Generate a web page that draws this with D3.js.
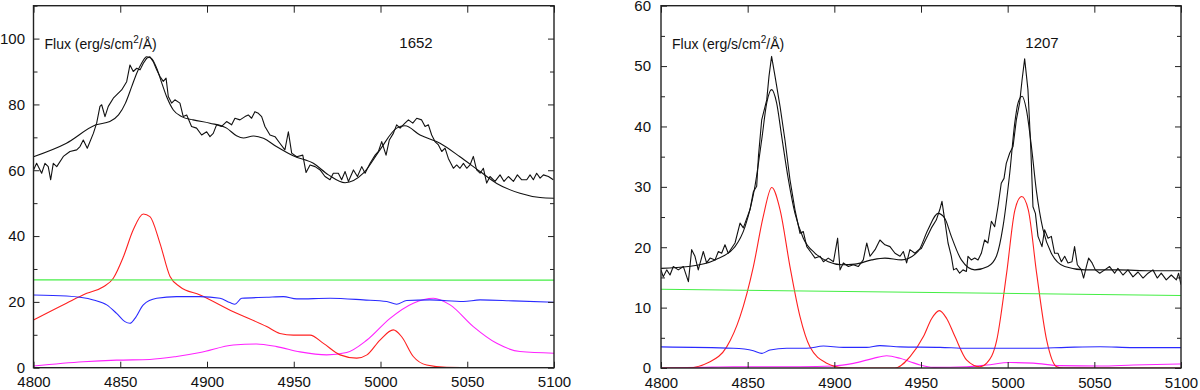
<!DOCTYPE html>
<html>
<head>
<meta charset="utf-8">
<script src="https://cdn.jsdelivr.net/npm/d3@7"></script>
<style>
  body { margin: 0; background: #fff; }
  svg { display: block; font-family: "Liberation Sans", Arial, sans-serif; }
</style>
</head>
<body>
<script>
const W = 1200, H = 390;

// wavelength ticks shared by both panels
const waveTicks = [4800, 4850, 4900, 4950, 5000, 5050, 5100];
const leftFluxTicks = [0, 20, 40, 60, 80, 100];
const leftFluxMinor = [10, 30, 50, 70, 90, 110];
const rightFluxTicks = [0, 10, 20, 30, 40, 50, 60];
const rightFluxMinor = [5, 15, 25, 35, 45, 55];

// ---- panel 1652 ----
const obs1652 = [
  [4800,60.1],[4801.8,62.1],[4804.7,59.1],[4806.6,62.1],[4808.5,61.1],[4809.9,57.1],[4811.4,62.1],[4813.4,61.1],
  [4817.2,64.2],[4821,65.7],[4824.9,66.2],[4826.8,67.2],[4828.7,69.2],[4831,66.7],[4834.5,71.2],[4836.4,74.3],
  [4838.3,79.4],[4839.3,79.9],[4841.2,76.3],[4843.1,79.4],[4846,81.9],[4847.9,82.9],[4850.8,84.4],[4853.7,86.9],
  [4855.6,92],[4857.5,90],[4859.5,91],[4861.4,90.5],[4863.3,92.5],[4865.2,94],[4867.1,94.5],[4869,93],
  [4871,90.5],[4872.9,88.5],[4874.8,87],[4876.4,88],[4877.7,82.4],[4879.6,80.4],[4881.5,81.4],[4884.4,80.4],
  [4886.3,76.3],[4888.3,76.8],[4891.1,73.3],[4894,72.8],[4896.9,70.7],[4899.8,71.7],[4901.7,70.2],[4903.6,71.2],
  [4905.5,73.8],[4908.4,73.3],[4911.3,74.8],[4914.2,73.8],[4916.1,75.8],[4919,75.3],[4921.9,76.3],[4923.8,76.8],
  [4925.7,75.8],[4927.6,77.8],[4929.6,77.3],[4931.5,76.3],[4933.4,73.3],[4936.3,70.7],[4939.2,70.2],[4942,68.2],
  [4944.9,66.2],[4946.9,71.7],[4948.8,65.2],[4951.7,64.1],[4955.2,64.6],[4957.1,59.3],[4959.4,61.6],[4962.3,61.1],
  [4965.2,60.1],[4968,58.1],[4970.9,57.1],[4972.8,59.1],[4975.7,59.1],[4977.6,57.1],[4979.6,59.6],[4981.5,56.6],
  [4984.4,60.1],[4986.7,58.1],[4989.2,61.1],[4991.1,59.1],[4994,62.1],[4996.9,64.6],[4998.8,65.7],[5000.7,68.7],
  [5003.2,64.6],[5005.1,69.2],[5007.4,71.2],[5009.3,73.8],[5011.3,72.8],[5014.1,74.3],[5016.1,75.3],[5018.6,74.3],
  [5020.9,75.8],[5023.7,75.3],[5025.7,73.3],[5027.6,73.8],[5029.5,70.7],[5031.4,68.7],[5033.4,67.7],[5035.3,65.7],
  [5037.2,66.7],[5039.1,63.6],[5042,60.6],[5043.9,61.6],[5045.8,60.6],[5047.8,62.1],[5049.7,60.6],[5051.6,61.6],
  [5053.5,64.2],[5055.4,60.1],[5057.4,59.1],[5059.3,60.6],[5061.2,56.1],[5063.1,58.1],[5066,56.6],[5068.9,58.6],
  [5071.2,56.6],[5073.7,58.1],[5076.6,56.6],[5078.9,58.6],[5081.4,57.1],[5084.3,57.1],[5086.2,58.6],[5088.1,57.1],
  [5090,59.1],[5092,57.6],[5093.9,58.6],[5096.8,58.1],[5099.6,57.1]
];
const fit1652 = [
  [4800,64.1],[4819,68.2],[4836,73.8],[4844,74.8],[4849,76.8],[4853,80.4],[4856.6,85.4],[4859.5,89.5],
  [4862.3,92.5],[4865.2,94.5],[4868,94],[4871,91],[4874,86.4],[4876.7,82.4],[4880.6,78.3],[4885.4,76.3],
  [4892,75.3],[4901.7,74.3],[4911.3,72.8],[4917,70.5],[4921,69.8],[4926.7,70.4],[4932.5,69.7],[4940,67.2],
  [4950,64.3],[4961.3,62.1],[4970,58.6],[4979.6,56.2],[4990.1,59.1],[4999.7,66.2],[5009.3,72.8],[5014.1,73.5],
  [5022.8,70.7],[5034.3,68.2],[5045.8,64.1],[5057.4,59.6],[5067,56],[5080.4,53],[5092,51.7],[5100,51.5]
];
const cont1652 = [[4800,26.7],[5100,26.6]];
const feii1652 = [
  [4800,22.1],[4819,21.8],[4834.5,20.6],[4842.2,19.1],[4847.9,16.5],[4852.7,14],[4855.6,13.5],[4858.5,15],
  [4863.3,19.1],[4871,21.1],[4882.5,21.6],[4896,21.6],[4907.5,21.1],[4913.2,19.8],[4916.1,19.3],[4920,21.1],
  [4934.4,21.4],[4944,21.6],[4951.7,20.9],[4970.9,21.1],[4990.1,20.6],[5003.6,20.1],[5009.3,19.3],[5015.1,20.4],
  [5028.5,20.6],[5047.8,20.1],[5057.4,20.6],[5076.6,20.3],[5100,19.9]
];
const lines1652 = [
  [4800,14.5],[4819,19.6],[4830.7,22.6],[4840.3,24.6],[4846,27.2],[4851.8,33.7],[4857.5,41.9],[4863.3,46.7],
  [4867.1,45.9],[4872.9,37.8],[4878.7,27.7],[4884.4,24.6],[4896,22.1],[4915.2,17],[4934.4,12.5],[4942,10.4],
  [4949.8,9.9],[4959.4,9.9],[4967.1,7.4],[4976.7,3.9],[4986.3,2.9],[4992.2,3.9],[4999.7,8.4],[5007.4,11.5],
  [5012.2,9.4],[5018.9,3.4],[5026.6,0.8],[5038.1,0.1],[5057.4,0]
];
const heii1652 = [
  [4800,0.5],[4828.7,1.8],[4847.9,2.3],[4867.1,2.5],[4882.5,3.4],[4896,4.6],[4915.2,6.9],[4928.6,7.2],
  [4940.2,6.4],[4953.6,4.8],[4969,3.9],[4980.5,4.6],[4992.2,8.4],[5005.5,15],[5018.9,19.6],[5030.5,21.1],
  [5040.1,19.1],[5053.5,12.5],[5067,7.4],[5080.4,4.9],[5100,4.4]
];

// ---- panel 1207 ----
const obs1207 = [
  [4800,16.25],[4801.3,15.1],[4803.3,16.25],[4805.2,15.4],[4807.1,16.8],[4810,16.25],[4812.9,16.8],[4815.8,14.3],
  [4817.7,19.6],[4819.6,18.5],[4821.5,16.25],[4824.4,19.3],[4826.3,17.4],[4828.3,18.2],[4831.2,17.9],[4833.1,19.3],
  [4835,19],[4836.9,20.4],[4838.8,19],[4842.7,20.7],[4845.6,24],[4847.5,23.2],[4851.3,26.2],[4853.3,29.2],
  [4855.2,30.1],[4856.2,35],[4858.1,41.1],[4861,44.4],[4862.3,48.3],[4863.8,51.6],[4865.8,48.3],[4868.7,43.3],
  [4871.5,37.8],[4874.4,31.2],[4877.3,26.2],[4880.2,22.3],[4882.1,22.6],[4884.1,20.1],[4886.9,19],[4888.9,18.2],
  [4891.8,18.5],[4893.7,17.6],[4896.5,18.2],[4899.5,17.6],[4901.9,21.5],[4903.3,16.25],[4905.2,17.4],[4908.1,16.8],
  [4911,17.1],[4913.8,16.8],[4916.7,17.9],[4918.7,20.7],[4920.6,18.5],[4923.5,19.6],[4926.3,21.2],[4929.2,20.4],
  [4932.1,20.1],[4935,19],[4937.9,18.5],[4939.8,19.3],[4941.7,17.4],[4943.6,19.6],[4946.5,19],[4948.8,19.6],
  [4950.2,19.8],[4953.1,21.5],[4956,23.2],[4958.8,24.5],[4960.8,26.2],[4962.1,27.6],[4963.7,24.5],[4965.6,20.7],
  [4967.5,18.5],[4968.8,16.25],[4970.4,16.5],[4972.3,15.7],[4974.2,16.25],[4976.2,16],[4977.1,18.5],[4979,17.9],
  [4981,18.2],[4982.9,17.9],[4984.8,19],[4986.7,21.2],[4988.6,20.7],[4990.6,24.3],[4992.5,23.4],[4994.4,26.7],
  [4996.3,30.6],[4997.9,31.4],[4999.2,33.9],[5001.2,35.6],[5003.1,36.7],[5005,41.1],[5006.9,43.9],[5008.3,47.7],
  [5009.8,51.2],[5011.7,46.1],[5013.3,36.7],[5014.6,26.7],[5016,25.6],[5017.5,21.8],[5019.8,20.1],[5021.3,22.9],
  [5023.3,21.5],[5025.2,21.8],[5027.1,19],[5029,19],[5031,17.6],[5032.9,18.5],[5034.8,17.4],[5037.1,17.6],
  [5038.6,20.1],[5040.2,17.1],[5042.5,16.25],[5043.8,14.9],[5045.4,16.8],[5046.7,18.2],[5048.7,17.4],[5050.6,16.25],
  [5053.1,15.7],[5056,16.25],[5058.8,16.8],[5061.7,15.7],[5063.6,16.5],[5066.5,15.4],[5069.4,16.25],[5072.3,15.1],
  [5075.2,15.9],[5078.1,14.9],[5081,15.7],[5083.8,16.25],[5086.3,14.9],[5088.6,15.7],[5091.5,14.6],[5094.4,15.4],
  [5097.3,14.6],[5098.6,15.7],[5100,13.8]
];
const fit1207 = [
  [4800,16.5],[4815.8,16.8],[4831.2,17.9],[4842.7,20.1],[4848.5,23.4],[4854.2,30.1],[4858.1,37.8],[4861,43.9],
  [4863.8,46.1],[4866.7,43.9],[4869.6,38.4],[4873.5,31.2],[4877.3,25.6],[4882.1,21.5],[4888.9,19],[4896.5,17.6],
  [4904.2,17.1],[4911.9,17.2],[4921.5,17.9],[4929.2,18.2],[4938.8,17.9],[4948.3,19.3],[4954,22.9],[4959.8,25.6],
  [4963.7,24.8],[4967.5,21.8],[4973.3,17.9],[4981,16.25],[4988.6,16.8],[4993.5,18.5],[4997.3,23.4],[5001.2,32.3],
  [5004.1,40.6],[5006,43.9],[5008.3,45],[5010.8,42.8],[5013.7,36.7],[5016.5,29.5],[5020.4,22.9],[5025.2,19],
  [5032.9,16.8],[5044.4,16.25],[5063.6,16.25],[5082.9,16.1],[5100,16.1]
];
const cont1207 = [[4800,13.05],[5100,12.0]];
const feii1207 = [
  [4800,3.5],[4841.7,3.26],[4853.3,2.87],[4858.1,2.43],[4862.9,2.98],[4872.5,3.26],[4884,3.26],[4893.7,3.64],
  [4905.2,3.42],[4918.6,3.42],[4926.3,3.7],[4937.9,3.5],[4961,3.42],[4976.4,3.26],[4995.6,3.26],[5014.8,3.26],
  [5034,3.42],[5053.3,3.53],[5072.5,3.37],[5100,3.37]
];
const lines1207 = [
  [4800,0],[4814.8,0],[4828.3,1.05],[4837.9,3.5],[4845.6,8.5],[4853.3,16.8],[4859,25.1],[4863.9,29.9],
  [4868.7,26.2],[4874.4,16.8],[4880.2,8.5],[4885.9,3.5],[4895.6,0.8],[4905.2,0.05],[4911,0],[4935,0],
  [4943.7,1.9],[4951.4,5.2],[4956.2,8.2],[4960.6,9.5],[4964.8,8.2],[4969.6,5.2],[4976.4,1.3],[4984,0.2],
  [4987.9,0.8],[4993.7,4.6],[4999.4,15.7],[5004.2,26.2],[5008.1,28.4],[5011.9,26.2],[5016.7,15.7],[5022.5,4.6],
  [5028.3,0.2],[5032.1,0],[5100,0]
];
const heii1207 = [
  [4800,0],[4822.5,0.1],[4841.7,0.2],[4880.2,0.2],[4899.4,0.33],[4911,0.77],[4922.5,1.6],[4930.2,2.04],
  [4937.9,1.6],[4943.7,1.05],[4949.4,0.5],[4957.1,0.1],[4976.4,0.2],[4987.9,0.5],[5001.4,0.9],[5014.8,0.8],
  [5030.2,0.4],[5053.3,0.33],[5072.5,0.5],[5100,0.66]
];

const svg = d3.select("body").append("svg")
  .attr("width", W)
  .attr("height", H);

const panels = [
  {
    id: "p1652", label: "1652", x0: 33.5, x1: 554, y0: 5.7, y1: 367.7, yMax: 110,
    major: leftFluxTicks, minor: leftFluxMinor, labelX: 416, yPad: 8.5,
    series: [
      { data: heii1652, color: "#ff22ff", smooth: true },
      { data: lines1652, color: "#ff2020", smooth: true },
      { data: feii1652, color: "#2a2aff", smooth: true },
      { data: cont1652, color: "#44ee44", smooth: false },
      { data: fit1652, color: "#111", smooth: true },
      { data: obs1652, color: "#111", smooth: false }
    ]
  },
  {
    id: "p1207", label: "1207", x0: 661, x1: 1181, y0: 5.7, y1: 368, yMax: 60,
    major: rightFluxTicks, minor: rightFluxMinor, labelX: 1042, yPad: 10,
    series: [
      { data: heii1207, color: "#ff22ff", smooth: true },
      { data: lines1207, color: "#ff2020", smooth: true },
      { data: feii1207, color: "#2a2aff", smooth: true },
      { data: cont1207, color: "#44ee44", smooth: false },
      { data: fit1207, color: "#111", smooth: true },
      { data: obs1207, color: "#111", smooth: false }
    ]
  }
];

panels.forEach(p => {
  const x = d3.scaleLinear().domain([4800, 5100]).range([p.x0, p.x1]);
  const y = d3.scaleLinear().domain([0, p.yMax]).range([p.y1, p.y0]);

  svg.append("clipPath").attr("id", "clip-" + p.id)
    .append("rect")
    .attr("x", p.x0).attr("y", p.y0)
    .attr("width", p.x1 - p.x0).attr("height", p.y1 - p.y0);

  const g = svg.append("g").attr("clip-path", `url(#clip-${p.id})`);

  p.series.forEach(s => {
    const line = d3.line()
      .x(d => x(d[0]))
      .y(d => y(d[1]))
      .curve(s.smooth ? d3.curveMonotoneX : d3.curveLinear);
    g.append("path")
      .datum(s.data)
      .attr("fill", "none")
      .attr("stroke", s.color)
      .attr("stroke-width", 1.1)
      .attr("stroke-linejoin", "round")
      .attr("d", line);
  });

  // inward ticks on all four sides
  const styleAxis = sel => {
    sel.select(".domain").remove();
    sel.selectAll("line").attr("stroke", "#222").attr("stroke-width", 1);
    sel.selectAll("text").attr("fill", "#111").attr("font-size", 15);
  };

  svg.append("g")
    .attr("transform", `translate(0,${p.y1})`)
    .call(d3.axisBottom(x).tickValues(waveTicks).tickFormat(d3.format("d")).tickSize(-6).tickPadding(9))
    .call(styleAxis);
  svg.append("g")
    .attr("transform", `translate(0,${p.y0})`)
    .call(d3.axisTop(x).tickValues(waveTicks).tickFormat("").tickSize(-7))
    .call(styleAxis);

  svg.append("g")
    .attr("transform", `translate(${p.x0},0)`)
    .call(d3.axisLeft(y).tickValues(p.major).tickSize(-6).tickPadding(p.yPad))
    .call(styleAxis);
  svg.append("g")
    .attr("transform", `translate(${p.x0},0)`)
    .call(d3.axisLeft(y).tickValues(p.minor).tickFormat("").tickSize(-4))
    .call(styleAxis);
  svg.append("g")
    .attr("transform", `translate(${p.x1},0)`)
    .call(d3.axisRight(y).tickValues(p.major).tickFormat("").tickSize(-6))
    .call(styleAxis);
  svg.append("g")
    .attr("transform", `translate(${p.x1},0)`)
    .call(d3.axisRight(y).tickValues(p.minor).tickFormat("").tickSize(-4))
    .call(styleAxis);

  svg.append("rect")
    .attr("x", p.x0).attr("y", p.y0)
    .attr("width", p.x1 - p.x0).attr("height", p.y1 - p.y0)
    .attr("fill", "none")
    .attr("stroke", "#222")
    .attr("stroke-width", 1.4);

  const flux = svg.append("text")
    .attr("x", p.x0 + 11)
    .attr("y", 49)
    .attr("font-size", 14)
    .attr("fill", "#111");
  flux.append("tspan").text("Flux (erg/s/cm");
  flux.append("tspan").attr("dy", -6).attr("font-size", 10).text("2");
  flux.append("tspan").attr("dy", 6).text("/Å)");

  svg.append("text")
    .attr("x", p.labelX)
    .attr("y", 48)
    .attr("text-anchor", "middle")
    .attr("font-size", 15)
    .attr("fill", "#111")
    .text(p.label);
});
</script>
</body>
</html>
